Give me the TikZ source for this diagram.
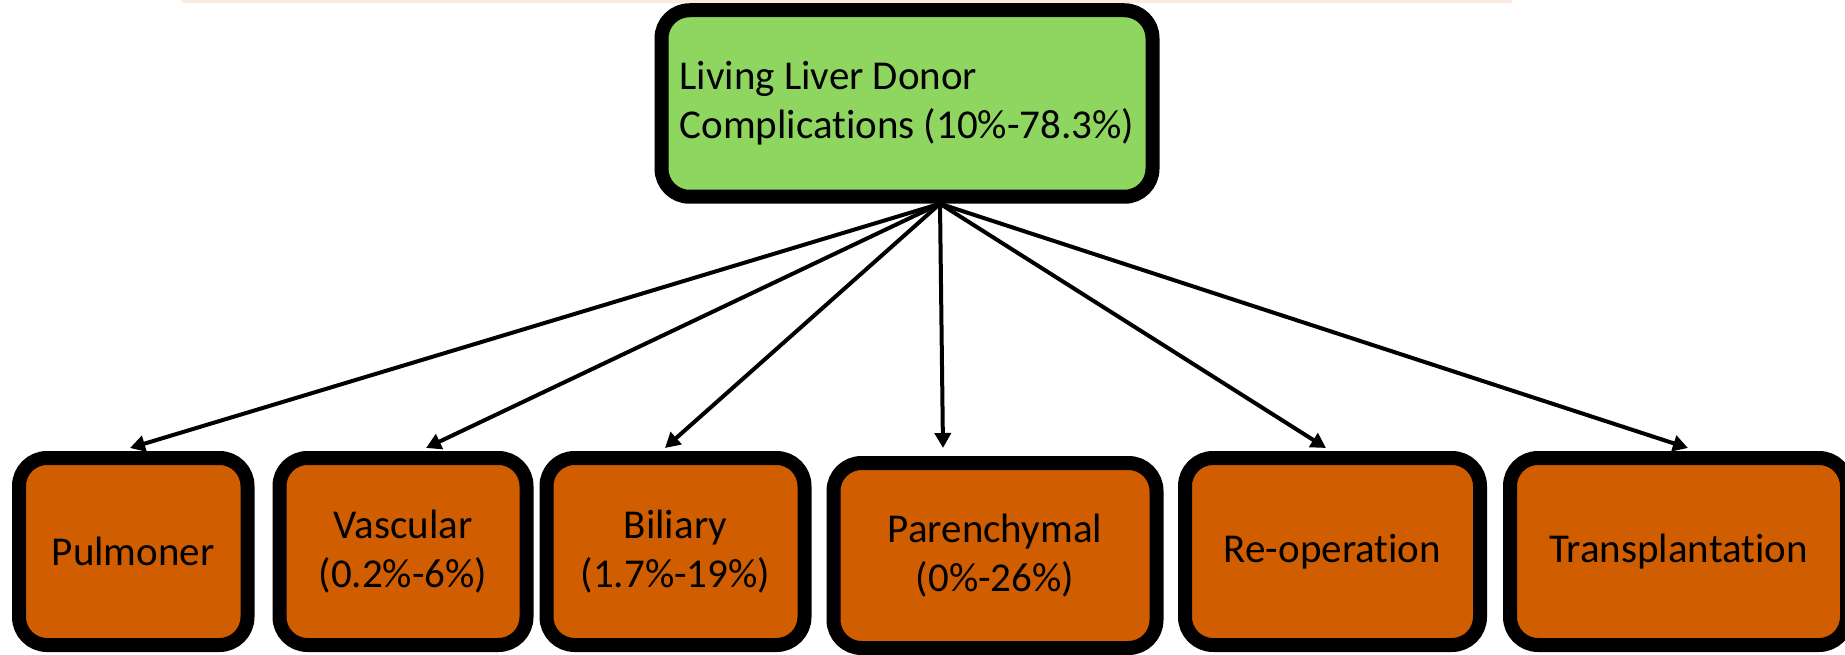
\documentclass[tikz,border=0pt]{standalone}
\usepackage{fontspec}
\setmainfont{Carlito}[Ligatures=NoCommon]
\usetikzlibrary{arrows.meta}
\definecolor{topgreen}{HTML}{8FD660}
\definecolor{boxorange}{HTML}{D05E00}
\definecolor{faintpeach}{HTML}{FCE9DF}
\begin{document}
\begin{tikzpicture}[x=1pt,y=-1pt,
  box/.style={draw=black, line width=14pt, rounded corners=28pt, inner sep=0pt,
    font=\fontsize{41}{49}\selectfont, align=center},
  subbox/.style={box, fill=boxorange, minimum height=187pt},
  link/.style={draw=black, line width=4pt, -{Triangle[length=15pt,width=16pt]}}]
\useasboundingbox (0,0) rectangle (1845,655);
\fill[faintpeach] (182,0) rectangle (1512,3);
\node[box, fill=topgreen, minimum width=491pt, minimum height=186.5pt, align=left] (top) at (907,103.5)
  {Living Liver Donor\\Complications (10\%-78.3\%)};
\node[subbox, minimum width=228.5pt] (b1) at (133.25,551.5) {Pulmoner};
\node[subbox, minimum width=247pt] (b2) at (403,551.5) {Vascular\\(0.2\%-6\%)};
\node[subbox, minimum width=258pt] (b3) at (675.5,551.5) {Biliary\\(1.7\%-19\%)};
\node[subbox, minimum width=323pt, minimum height=185pt] (b4) at (995,555.5) {Parenchymal\\(0\%-26\%)};
\node[subbox, minimum width=295pt] (b5) at (1332.5,551.5) {Re-operation};
\node[subbox, minimum width=337pt] (b6) at (1678.5,551.5) {Transplantation};
\coordinate (src) at ([xshift=33pt]top.south);
\draw[link] (src) -- ([xshift=-3.25pt,yshift=3pt]b1.north);
\draw[link] (src) -- ([xshift=23pt,yshift=3pt]b2.north);
\draw[link] (src) -- ([xshift=-10.5pt,yshift=3pt]b3.north);
\draw[link] (src) -- ([xshift=-52pt,yshift=8pt]b4.north);
\draw[link] (src) -- ([xshift=-6.5pt,yshift=3pt]b5.north);
\draw[link] (src) -- ([xshift=9.5pt,yshift=3pt]b6.north);
\end{tikzpicture}
\end{document}
